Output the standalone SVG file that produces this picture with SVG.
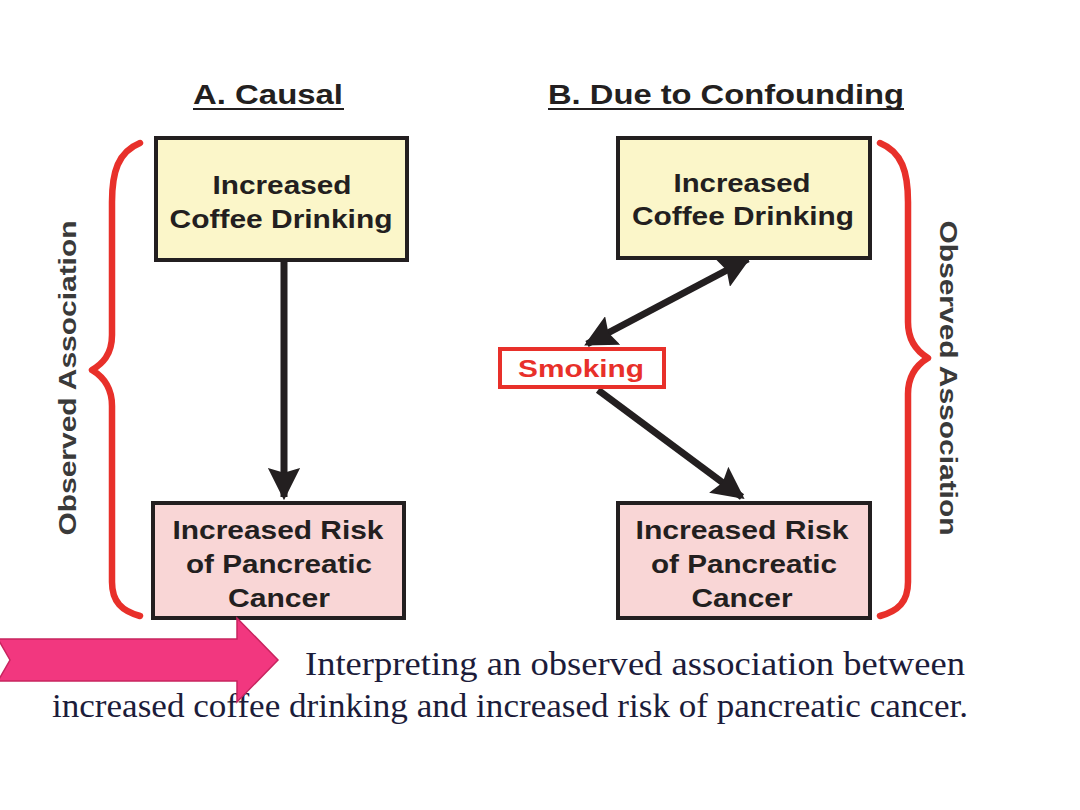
<svg xmlns="http://www.w3.org/2000/svg" width="1080" height="810" viewBox="0 0 1080 810">
<defs>
<style>
.t{font-family:"Liberation Sans",Arial,sans-serif;font-weight:bold;fill:#231f20;text-anchor:middle}
.title{font-size:28px}
.box{font-size:25px}
.obs{font-family:"Liberation Sans",Arial,sans-serif;font-weight:bold;font-size:24px;fill:#3a3a3a;text-anchor:middle}
.cap{font-family:"Liberation Serif","Times New Roman",serif;font-size:34px;fill:#1c1c3a}
.yel{fill:#fbf6c9;stroke:#231f20;stroke-width:4}
.pnk{fill:#f9d6d6;stroke:#231f20;stroke-width:4}
.con{stroke:#231f20;stroke-width:7;fill:none}
.brace{stroke:#e8302a;stroke-width:6.5;fill:none;stroke-linecap:round;stroke-linejoin:round}
.ul{stroke:#231f20;stroke-width:2}
</style>
<marker id="ah" viewBox="0 0 10 10" refX="9" refY="5" markerWidth="4.6" markerHeight="4.6" orient="auto-start-reverse" markerUnits="strokeWidth">
<path d="M0,0 L10,5 L0,10 L1.5,5 Z" fill="#231f20"/>
</marker>
</defs>
<rect width="1080" height="810" fill="#ffffff"/>

<g id="title-a">
<text class="t title" x="268" y="104" textLength="150" lengthAdjust="spacingAndGlyphs">A. Causal</text>
<line class="ul" x1="193" y1="109" x2="344" y2="109"/>
</g>
<g id="title-b">
<text class="t title" x="726" y="104" textLength="356" lengthAdjust="spacingAndGlyphs">B. Due to Confounding</text>
<line class="ul" x1="548" y1="109" x2="904" y2="109"/>
</g>

<g id="braces">
<path class="brace" d="M140,143 C118,152 112,172 112,202 L112,335 C112,355 102,364 92,370 C102,376 112,386 112,406 L112,582 C112,602 122,611 140,616"/>
<path class="brace" d="M880,143 C902,152 908,172 908,202 L908,322 C908,342 918,352 928,358 C918,364 908,374 908,394 L908,582 C908,602 898,611 880,616"/>
</g>
<g id="label-obs-left">
<text class="obs" transform="translate(76,378) rotate(-90)" textLength="315" lengthAdjust="spacingAndGlyphs">Observed Association</text>
</g>
<g id="label-obs-right">
<text class="obs" transform="translate(940,378) rotate(90)" textLength="315" lengthAdjust="spacingAndGlyphs">Observed Association</text>
</g>

<g id="connectors">
<line class="con" x1="284" y1="262" x2="284" y2="497" marker-end="url(#ah)"/>
<line class="con" x1="587" y1="344" x2="748" y2="259" marker-start="url(#ah)" marker-end="url(#ah)"/>
<line class="con" x1="598" y1="390" x2="742" y2="497" marker-end="url(#ah)"/>
</g>

<g id="node-a-coffee">
<rect class="yel" x="156" y="138" width="251" height="122"/>
<text class="t box" x="282" y="194" textLength="139" lengthAdjust="spacingAndGlyphs">Increased</text>
<text class="t box" x="281" y="228" textLength="223" lengthAdjust="spacingAndGlyphs">Coffee Drinking</text>
</g>
<g id="node-a-cancer">
<rect class="pnk" x="153" y="503" width="251" height="115"/>
<text class="t box" x="278" y="539" textLength="211" lengthAdjust="spacingAndGlyphs">Increased Risk</text>
<text class="t box" x="279" y="573" textLength="186" lengthAdjust="spacingAndGlyphs">of Pancreatic</text>
<text class="t box" x="279" y="607" textLength="102" lengthAdjust="spacingAndGlyphs">Cancer</text>
</g>
<g id="node-b-coffee">
<rect class="yel" x="618" y="138" width="252" height="120"/>
<text class="t box" x="742" y="192" textLength="137" lengthAdjust="spacingAndGlyphs">Increased</text>
<text class="t box" x="743" y="225" textLength="222" lengthAdjust="spacingAndGlyphs">Coffee Drinking</text>
</g>
<g id="node-b-smoking">
<rect x="500" y="349" width="164" height="38" fill="#ffffff" stroke="#e8302a" stroke-width="4"/>
<text class="t" x="581" y="377" font-size="23" style="fill:#e8302a" textLength="126" lengthAdjust="spacingAndGlyphs">Smoking</text>
</g>
<g id="node-b-cancer">
<rect class="pnk" x="618" y="503" width="252" height="115"/>
<text class="t box" x="742" y="539" textLength="213" lengthAdjust="spacingAndGlyphs">Increased Risk</text>
<text class="t box" x="744" y="573" textLength="186" lengthAdjust="spacingAndGlyphs">of Pancreatic</text>
<text class="t box" x="742" y="607" textLength="101" lengthAdjust="spacingAndGlyphs">Cancer</text>
</g>

<g id="caption">
<text class="cap" x="305" y="675" textLength="660" lengthAdjust="spacingAndGlyphs">Interpreting an observed association between</text>
<text class="cap" x="52" y="717" textLength="916" lengthAdjust="spacingAndGlyphs">increased coffee drinking and increased risk of pancreatic cancer.</text>
</g>

<g id="pink-arrow">
<path d="M-2,639 L237,639 L237,618 L278,660 L237,702 L237,681 L-2,681 L10,660 Z" fill="#f2377f" stroke="#c8245f" stroke-width="1.5"/>
</g>
</svg>
